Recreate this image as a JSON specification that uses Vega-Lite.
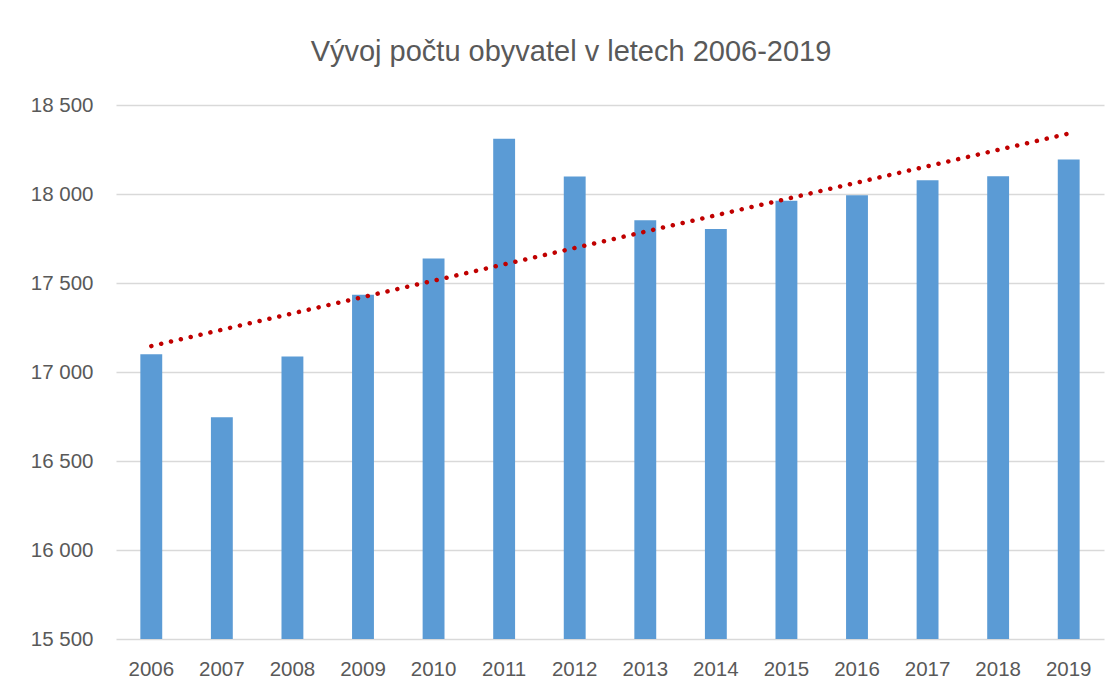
{
  "$schema": "https://vega.github.io/schema/vega-lite/v6.json",
  "autosize": {"type": "none"},
  "width": 988,
  "height": 534,
  "padding": {"left": 116, "top": 105, "right": 16, "bottom": 54},
  "background": "white",
  "title": {
    "text": "Vývoj počtu obyvatel v letech 2006-2019",
    "font": "Liberation Sans",
    "fontSize": 29,
    "fontWeight": "normal",
    "color": "#595959",
    "anchor": "middle",
    "dx": -39,
    "offset": 28
  },
  "data": {
    "values": [
      {"year": 2006, "pop": 17100},
      {"year": 2007, "pop": 16746},
      {"year": 2008, "pop": 17087},
      {"year": 2009, "pop": 17434},
      {"year": 2010, "pop": 17638},
      {"year": 2011, "pop": 18310},
      {"year": 2012, "pop": 18098},
      {"year": 2013, "pop": 17853},
      {"year": 2014, "pop": 17804},
      {"year": 2015, "pop": 17962},
      {"year": 2016, "pop": 17993},
      {"year": 2017, "pop": 18077},
      {"year": 2018, "pop": 18100},
      {"year": 2019, "pop": 18194}
    ]
  },
  "encoding": {
    "x": {
      "field": "year",
      "type": "ordinal",
      "scale": {"paddingInner": 0.69, "paddingOuter": 0.345},
      "axis": {
        "title": null,
        "labelAngle": 0,
        "ticks": false,
        "domain": false,
        "labelPadding": 20,
        "labelFont": "Liberation Sans",
        "labelFontSize": 20.5,
        "labelColor": "#595959"
      }
    },
    "y": {
      "field": "pop",
      "type": "quantitative",
      "scale": {"domain": [15500, 18500], "nice": false, "zero": false},
      "axis": {
        "title": null,
        "values": [15500, 16000, 16500, 17000, 17500, 18000, 18500],
        "format": ",d",
        "ticks": false,
        "domain": false,
        "labelPadding": 23,
        "labelFont": "Liberation Sans",
        "labelFontSize": 20.5,
        "labelColor": "#595959",
        "gridColor": "#D9D9D9",
        "gridWidth": 1.6
      }
    }
  },
  "layer": [
    {
      "mark": {"type": "bar", "color": "#5B9BD5", "clip": true}
    },
    {
      "transform": [{"regression": "pop", "on": "year"}],
      "mark": {
        "type": "line",
        "color": "#C00000",
        "strokeWidth": 4.5,
        "strokeCap": "round",
        "strokeDash": [0.1, 10]
      }
    }
  ],
  "config": {
    "view": {"stroke": null},
    "locale": {
      "number": {
        "decimal": ",",
        "thousands": " ",
        "grouping": [3],
        "currency": ["", " Kč"]
      }
    }
  }
}
